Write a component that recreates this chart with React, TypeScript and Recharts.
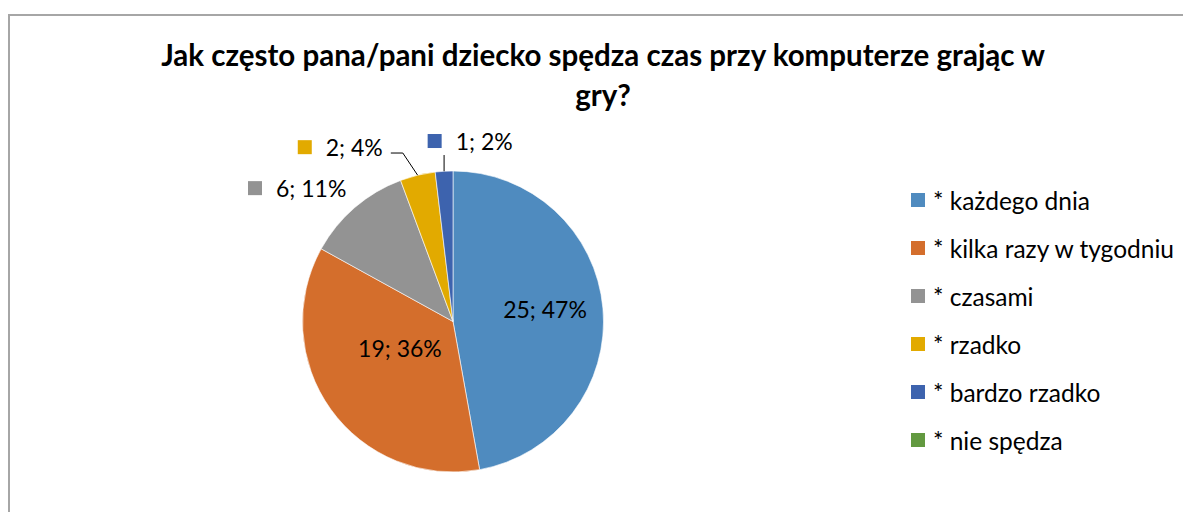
import React from 'react';
import { PieChart, Pie, Cell } from 'recharts';

const titleLines = ['Jak często pana/pani dziecko spędza czas przy komputerze grając w', 'gry?'];
const categories = ['* każdego dnia', '* kilka razy w tygodniu', '* czasami', '* rzadko', '* bardzo rzadko', '* nie spędza'];
const counts = [25, 19, 6, 2, 1, 0];
const colors = ['#4F8BBF', '#D46E2C', '#939393', '#E2AA00', '#3D63AE', '#629940'];

const data = categories.map((name, i) => ({ name, value: counts[i] }));

const FONT = 'Lato, "Open Sans", sans-serif';
const LABEL_FS = 23;
const LEGEND_FS = 24.5;

// label layout relative to slice geometry (radius factor of outerRadius, angle offset in degrees)
const LABEL_LAYOUT: any[] = [
  { mode: 'inside', r: 0.617, da: 2.6 },
  { mode: 'inside', r: 0.394, da: -9.1 },
  { mode: 'outside', r: 1.625, da: 16.2 },
  { mode: 'outside', r: 1.551, da: 28.1, leader: 'elbow' },
  { mode: 'outside', r: 1.211, da: 4.6, leader: 'vertical' },
  null,
];

const RAD = Math.PI / 180;
const polar = (cx: number, cy: number, r: number, a: number) => ({
  x: cx + r * Math.cos(a * RAD),
  y: cy - r * Math.sin(a * RAD),
});

const renderLabel = (props: any) => {
  const { cx, cy, midAngle, outerRadius, percent, value, index } = props;
  const cfg = LABEL_LAYOUT[index];
  if (!cfg || !value) return null;
  const text = `${value}; ${Math.round(percent * 100)}%`;
  const p = polar(cx, cy, outerRadius * cfg.r, midAngle + cfg.da);
  if (cfg.mode === 'inside') {
    return (
      <text key={`l${index}`} x={p.x} y={p.y} textAnchor="middle" dominantBaseline="central"
        fontSize={LABEL_FS} fontFamily={FONT} fill="#000">{text}</text>
    );
  }
  const edge = polar(cx, cy, outerRadius, midAngle);
  let leader: any = null;
  if (cfg.leader === 'elbow') {
    const el = polar(cx, cy, outerRadius * 1.168, midAngle + 3);
    leader = <polyline points={`${edge.x},${edge.y} ${el.x},${el.y} ${el.x - 12},${el.y}`} fill="none" stroke="#000" strokeWidth={1} />;
  } else if (cfg.leader === 'vertical') {
    leader = <line x1={edge.x} y1={edge.y} x2={edge.x} y2={p.y + 14} stroke="#000" strokeWidth={1} />;
  }
  return (
    <g key={`l${index}`}>
      {leader}
      <rect x={p.x} y={p.y - 7} width={14} height={14} fill={colors[index]} />
      <text x={p.x + 28} y={p.y} textAnchor="start" dominantBaseline="central"
        fontSize={LABEL_FS} fontFamily={FONT} fill="#000">{text}</text>
    </g>
  );
};

export default function App() {
  return (
    <div style={{
      position: 'relative', top: 6, width: 1181, height: 502,
      borderTop: '2px solid #A6A6A6', borderLeft: '2px solid #A6A6A6', background: '#fff',
    }}>
      <div style={{
        position: 'absolute', left: 0, top: 0, width: 1186, textAlign: 'center',
        fontFamily: FONT, fontWeight: 'bold', fontSize: 29.5, lineHeight: '40px', paddingTop: 19, color: '#000',
      }}>
        {titleLines.map((t, i) => <div key={i}>{t}</div>)}
      </div>
      <PieChart width={1181} height={502}>
        <Pie
          data={data}
          dataKey="value"
          nameKey="name"
          cx={438}
          cy={300.5}
          outerRadius={150.5}
          startAngle={90}
          endAngle={-270}
          stroke="#ffffff"
          strokeWidth={0.6}
          label={renderLabel}
          labelLine={false}
          isAnimationActive={false}
        >
          {data.map((d, i) => <Cell key={i} fill={colors[i]} />)}
        </Pie>
      </PieChart>
      <div style={{ position: 'absolute', left: 901, top: 160, fontFamily: FONT, fontSize: LEGEND_FS, color: '#000' }}>
        {categories.map((c, i) => (
          <div key={i} style={{ height: 48, display: 'flex', alignItems: 'center', whiteSpace: 'nowrap' }}>
            <span style={{ display: 'inline-block', width: 14, height: 14, background: colors[i], marginRight: 8 }} />
            <span>{c}</span>
          </div>
        ))}
      </div>
    </div>
  );
}
